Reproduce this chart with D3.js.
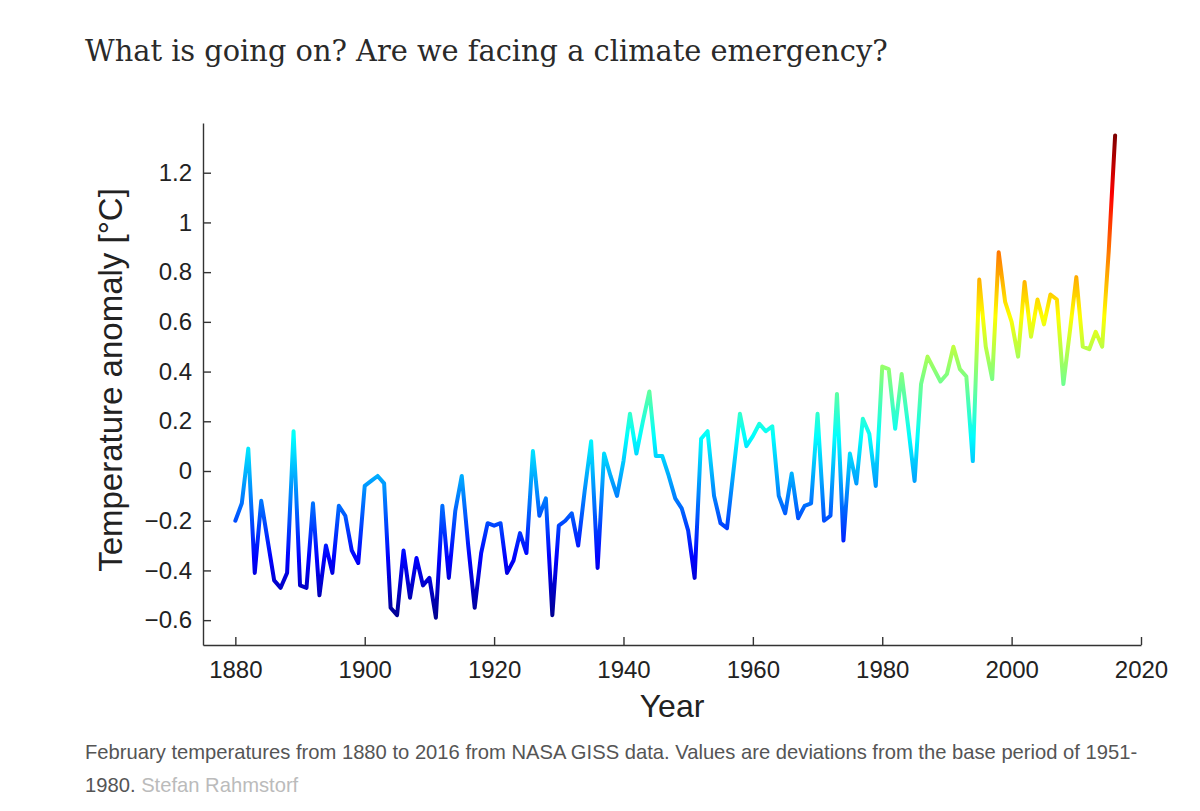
<!DOCTYPE html>
<html>
<head>
<meta charset="utf-8">
<script src="https://cdn.jsdelivr.net/npm/d3@7"></script>
<style>
  body { margin: 0; background: #fff; }
  svg text { font-family: "Liberation Sans", Arial, sans-serif; }
</style>
</head>
<body>
<svg id="chart" width="1200" height="811"></svg>
<script>
// February temperature anomaly (deg C), NASA GISS, one value per year from 1880
const firstYear = 1880;
const anomaly = [
  -0.20, -0.13, 0.09, -0.41, -0.12, -0.28, -0.44, -0.47, -0.41, 0.16,   // 1880s
  -0.46, -0.47, -0.13, -0.50, -0.30, -0.41, -0.14, -0.18, -0.32, -0.37, // 1890s
  -0.06, -0.04, -0.02, -0.05, -0.55, -0.58, -0.32, -0.51, -0.35, -0.46, // 1900s
  -0.43, -0.59, -0.14, -0.43, -0.16, -0.02, -0.30, -0.55, -0.33, -0.21, // 1910s
  -0.22, -0.21, -0.41, -0.36, -0.25, -0.33, 0.08, -0.18, -0.11, -0.58,  // 1920s
  -0.22, -0.20, -0.17, -0.30, -0.08, 0.12, -0.39, 0.07, -0.02, -0.10,   // 1930s
  0.04, 0.23, 0.07, 0.20, 0.32, 0.06, 0.06, -0.02, -0.11, -0.15,        // 1940s
  -0.24, -0.43, 0.13, 0.16, -0.10, -0.21, -0.23, 0.00, 0.23, 0.10,      // 1950s
  0.14, 0.19, 0.16, 0.18, -0.10, -0.17, -0.01, -0.19, -0.14, -0.13,     // 1960s
  0.23, -0.20, -0.18, 0.31, -0.28, 0.07, -0.05, 0.21, 0.15, -0.06,      // 1970s
  0.42, 0.41, 0.17, 0.39, 0.18, -0.04, 0.35, 0.46, 0.41, 0.36,          // 1980s
  0.39, 0.50, 0.41, 0.38, 0.04, 0.77, 0.50, 0.37, 0.88, 0.68,           // 1990s
  0.60, 0.46, 0.76, 0.54, 0.69, 0.59, 0.71, 0.69, 0.35, 0.56,           // 2000s
  0.78, 0.50, 0.49, 0.56, 0.50, 0.88, 1.35                              // 2010s
];
const xTicks = [1880, 1900, 1920, 1940, 1960, 1980, 2000, 2020];
const yTicks = [-0.6, -0.4, -0.2, 0, 0.2, 0.4, 0.6, 0.8, 1, 1.2];

const titleText = "What is going on? Are we facing a climate emergency?";
const captionLines = [
  "February temperatures from 1880 to 2016 from NASA GISS data. Values are deviations from the base period of 1951-",
  "1980."
];
const creditText = "Stefan Rahmstorf";

// jet colour map stops
const jetStops = [
  [0, "#000090"], [0.125, "#0000ff"], [0.375, "#00ffff"],
  [0.625, "#ffff00"], [0.875, "#ff0000"], [1, "#800000"]
];

const svg = d3.select("#chart");

const x = d3.scaleLinear().domain([1875, 2020]).range([203, 1141]);
const y = d3.scaleLinear().domain([-0.7, 1.4]).range([645, 123]);

// shrink/grow a text element so it spans a given width
function fitWidth(sel, width) {
  const fs = parseFloat(sel.attr("font-size"));
  const w = sel.node().getComputedTextLength();
  sel.attr("font-size", (fs * width / w).toFixed(2));
}

// title
svg.append("text")
    .attr("x", 85).attr("y", 61)
    .attr("font-size", 30)
    .style("font-family", "'DejaVu Serif', 'Liberation Serif', serif")
    .attr("fill", "#2a2a2a")
    .text(titleText)
    .call(fitWidth, 803);

// gradient: colour follows the value, like matlab's jet
const ext = d3.extent(anomaly);
const grad = svg.append("defs").append("linearGradient")
    .attr("id", "jet")
    .attr("gradientUnits", "userSpaceOnUse")
    .attr("x1", 0).attr("x2", 0)
    .attr("y1", y(ext[0])).attr("y2", y(ext[1]));
grad.selectAll("stop")
    .data(jetStops).enter()
    .append("stop")
    .attr("offset", d => d[0])
    .attr("stop-color", d => d[1]);

// axes
const fmt = d3.format("~g");
const gx = svg.append("g")
    .attr("transform", "translate(0,645)")
    .call(d3.axisBottom(x).tickValues(xTicks).tickFormat(d3.format("d"))
        .tickSizeInner(-8).tickSizeOuter(0).tickPadding(16));
const gy = svg.append("g")
    .attr("transform", "translate(203,0)")
    .call(d3.axisLeft(y).tickValues(yTicks).tickFormat(fmt)
        .tickSizeInner(-8).tickSizeOuter(0).tickPadding(11));

[gx, gy].forEach(g => {
  g.select(".domain").attr("stroke", "#333").attr("stroke-width", 1.4);
  g.selectAll(".tick line").attr("stroke", "#333").attr("stroke-width", 1.4);
  g.selectAll(".tick text")
      .attr("font-size", 24)
      .attr("font-family", "'Liberation Sans', Arial, sans-serif")
      .attr("fill", "#222");
});

// axis titles
svg.append("text")
    .attr("x", 672).attr("y", 717)
    .attr("text-anchor", "middle")
    .attr("font-size", 32)
    .attr("fill", "#222")
    .text("Year");

svg.append("text")
    .attr("transform", "translate(122,380) rotate(-90)")
    .attr("text-anchor", "middle")
    .attr("font-size", 33)
    .attr("fill", "#222")
    .text("Temperature anomaly [°C]");

// the line
const line = d3.line()
    .x((d, i) => x(firstYear + i))
    .y(d => y(d));

svg.append("path")
    .datum(anomaly)
    .attr("d", line)
    .attr("fill", "none")
    .attr("stroke", "url(#jet)")
    .attr("stroke-width", 4)
    .attr("stroke-linejoin", "round")
    .attr("stroke-linecap", "round");

// caption
const cap1 = svg.append("text")
    .attr("x", 85).attr("y", 759)
    .attr("font-size", 18)
    .attr("fill", "#555")
    .text(captionLines[0])
    .call(fitWidth, 1053);
const capSize = cap1.attr("font-size");

const cap2 = svg.append("text")
    .attr("x", 85).attr("y", 792)
    .attr("font-size", capSize)
    .attr("fill", "#555");
cap2.append("tspan").text(captionLines[1] + " ");
cap2.append("tspan").attr("fill", "#bbb").text(creditText);
</script>
</body>
</html>
